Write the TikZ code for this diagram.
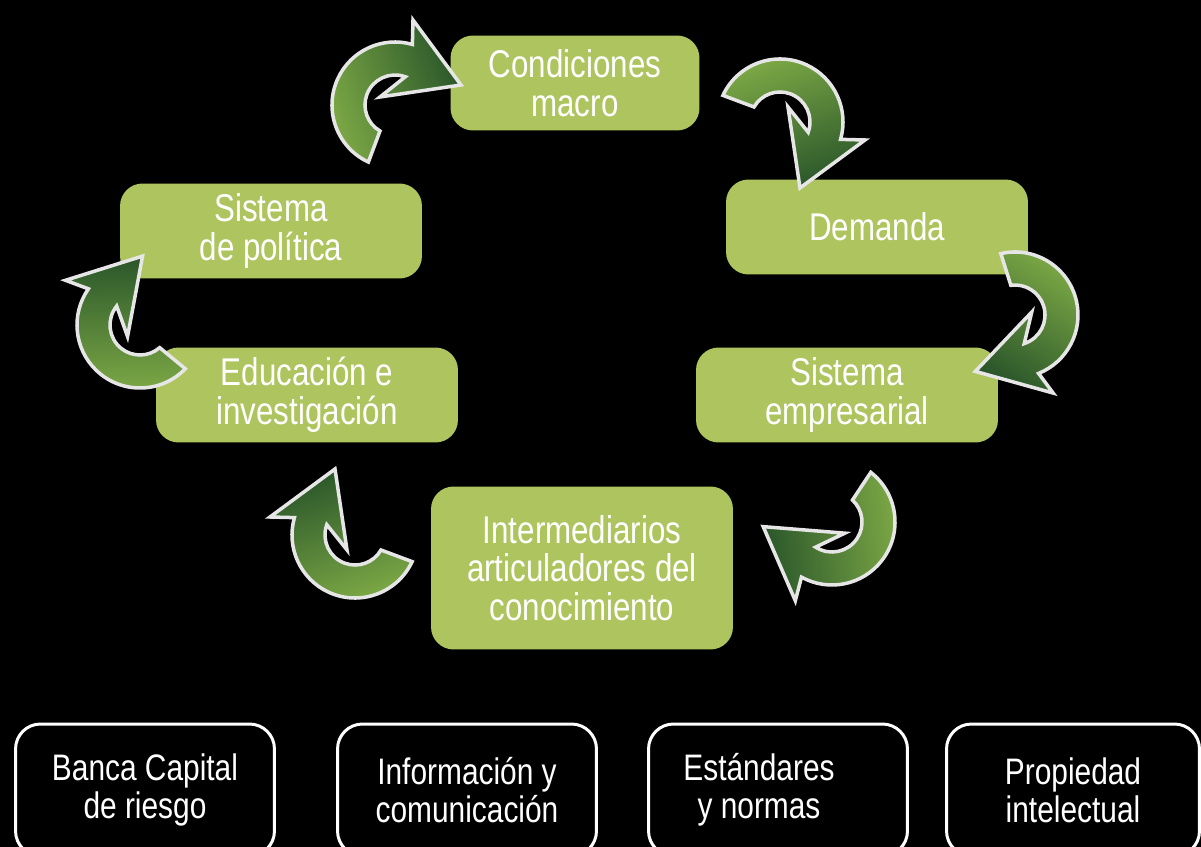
\documentclass[tikz,border=0pt]{standalone}
\usepackage{fontspec}
\setmainfont[FakeStretch=0.81]{Liberation Sans}
\usetikzlibrary{positioning}
\definecolor{boxgreen}{RGB}{174,196,94}
\definecolor{arrowlight}{RGB}{126,170,70}
\definecolor{arrowdark}{RGB}{42,86,42}
\definecolor{rim}{RGB}{230,230,230}

\begin{document}
\begin{tikzpicture}[x=0.02cm, y=0.02cm, semithick,
    pics/turn/.style={code={
      \path[draw=rim, line width=2pt, top color=arrowlight, bottom color=arrowdark,
            shading angle=#1+20, rotate=#1]
        (155:63) arc[start angle=155, end angle=-16, radius=63]
        -- (85,-18) -- (20,-66) -- (8,15)
        -- (-20:30) arc[start angle=-20, end angle=150, radius=30] -- cycle;
    }}]
  \tikzstyle{factor}=[rectangle, rounded corners=0.45cm, fill=boxgreen, text=white,
                      align=center, minimum width=6.04cm, minimum height=1.9cm,
                      font=\fontsize{22}{22}\selectfont]
  \tikzstyle{support}=[rectangle, rounded corners=0.5cm, draw=white, line width=1.7pt,
                       fill=black, text=white, align=center, minimum width=5.18cm,
                       minimum height=2.64cm, font=\fontsize{21}{21.6}\selectfont]

  \fill[black] (0,0) rectangle (1201,-847);
  \useasboundingbox (0,0) rectangle (1201,-847);

  \node[factor, minimum width=4.98cm] (macro) at (575,-83)  {Condiciones\\macro};
  \node[factor] (demanda)      at (877,-227) {Demanda};
  \node[factor] (empresarial)  at (847,-395) {Sistema\\empresarial};
  \node[factor, minimum height=3.26cm] (intermediarios) at (582,-568)
        {Intermediarios\\articuladores del\\conocimiento};
  \node[factor] (educacion)    at (307,-395) {Educación e\\investigación};
  \node[factor] (politica)     at (271,-231) {Sistema\\de política};

  \pic at (395,-105) {turn=90};
  \pic at (780,-122) {turn=0};
  \pic at (1015,-315) {turn=-52};
  \pic at (832,-522) {turn=257};
  \pic at (355,-535) {turn=180};
  \pic at (140,-325) {turn=161};

  \node[support] (banca)       at (145,-790)  {Banca Capital\\de riesgo};
  \node[support] (informacion) at (467,-790)  {Información y\\comunicación};
  \node[support] (estandares)  at (778,-790)  {Estándares\hspace*{0.76cm}\\y normas\hspace*{0.76cm}};
  \node[support, minimum width=5.06cm] (propiedad) at (1073,-790) {Propiedad\\intelectual};
\end{tikzpicture}
\end{document}
